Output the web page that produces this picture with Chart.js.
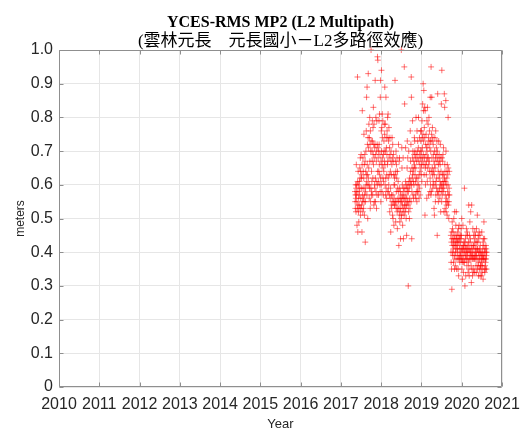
<!DOCTYPE html>
<html>
<head>
<meta charset="utf-8">
<script src="https://cdn.jsdelivr.net/npm/chart.js@4.4.1/dist/chart.umd.min.js"></script>
<style>
  html, body { margin: 0; padding: 0; background: #ffffff; }
  #wrap { width: 524px; height: 430px; }
</style>
</head>
<body>
<div id="wrap"><canvas id="c" width="524" height="430"></canvas></div>
<script>
// RMS MP2 (L2 multipath) for station YCES, in centimetres (divided by 100 below).
// Solutions are listed at a fixed spacing of stepDays, starting at the given decimal year.
const stepDays = 1.5;

const firstYear1 = 2017.35;
const mp2Period1 = [
  58,55,53,57,60,56,52,59,66,57,60,55,48,58,53,92,61,46,54,64,
  60,52,56,49,58,54,57,61,59,65,53,62,68,51,64,56,53,69,59,62,
  54,63,46,66,82,55,57,52,68,59,64,56,53,62,75,55,66,51,57,69,
  59,67,43,55,58,64,70,60,76,63,86,61,57,89,66,72,63,50,60,74,
  93,62,71,65,78,60,56,74,59,80,67,72,53,76,55,70,59,100,73,57,
  64,58,61,70,67,79,73,57,62,77,69,83,66,72,54,78,68,55,60,71,
  59,72,91,62,55,69,80,58,61,67,53,70,79,57,72,60,98,64,97,71,
  68,61,57,70,64,79,72,66,81,63,60,69,58,86,91,62,55,67,60,76,
  94,70,77,58,66,81,74,68,79,62,65,57,69,61,64,73,70,78,67,75,
  89,66,60,78,70,57,62,86,59,74,71,56,63,69,76,58,66,80,67,74,
  81,62,58,73,60,77,68,63,57,71,52,74,69,56,64,59,46,67,70,54,
  63,57,53,66,74,55,68,51,72,57,50,67,55,69,63,48,60,56,54,62,
  60,54,91,63,67,55,49,64,70,53,58,66,62,55,68,52,47,64,59,53,
  56,61,58,72,55,42,53,67,51,68,59,49,56,52,58,44,55,53,57,50,
  100,55,51,71,65,56,60,54,48,57,52,68,59,44,56,53,58,51,95,54,
  84,56,59,52,55,61,71,53,57,50,60,54,45,56,59,65,73,58,55,68,
  60,54,30,58,52,70,61,55,59,50,62,56,53,60,76,64,67,61,72,55,
  92,86,60,44,58,65,62,68,79,63,70,57,64,61,56,67,60,65,69,74,
  66,73,70,63,57,68,61,65,56,80,69,58,62,67,55,76,60,70,58,73,
  68,62,58,71,80,60,67,56,63,69,74,59,66,64,57,70,76,68,73,65,
  63,70,76,66,61,79,68,74,71,84,67,75,90,69,82,73,88,66,63,77,
  68,83,74,51,82,65,60,72,66,69,75,63,71,67,56,79,70,61,83,68,
  65,72,78,68,74,57,66,80,73,67,76,64,71,58,62,86,60,73,70,57,
  95,64,58,75,86,68,73,65,77,63,59,74,61,72,69,64,60,67,53,63,
  51,70,66,74,65,60,55,68,76,57,61,69,71,59,62,73,67,45,70,58,
  87,68,57,64,55,66,73,58,62,69,67,59,63,56,61,66,72,60,52,68,
  64,58,84,60,55,94,68,57,59,63,67,61,69,58,60,71,63,59,52,61,
  87,62,83,66,64,53,57,61,55,85,70,52,60,56,54,62,64,51,66,55,
  58,63,60,80,65,54,57,50,55,59,64,57
];

// Second period, after the level drop.
const firstYear2 = 2019.73;
const mp2Period2 = [
  45,40,37,43,35,46,29,44,49,42,47,40,39,44,46,41,37,43,50,42,
  44,39,35,52,45,38,42,36,40,43,48,41,45,52,44,35,42,38,40,43,
  41,46,44,39,35,43,47,33,38,45,48,41,44,39,37,42,38,43,45,40,
  39,44,47,41,45,38,50,35,40,37,32,41,38,48,42,39,34,41,37,43,
  42,37,59,40,43,30,38,41,44,39,33,42,45,40,47,38,41,36,39,46,
  40,45,42,38,34,41,37,43,54,35,40,33,38,45,41,49,43,39,44,40,
  52,38,36,41,31,39,54,42,35,40,38,33,39,47,41,34,38,42,45,35,
  39,42,44,38,34,46,40,43,39,45,41,38,36,40,34,47,39,43,41,38,
  51,41,35,43,36,45,40,33,37,44,39,46,41,38,35,40,45,33,42,36,
  40,36,38,35,39,33,37,46,40,38,34,39,36,41,43,32,38,44,39,42,
  49,38,35,40,44,34,41,36,38,35,37,40,42,38,41,39,35,40
];

const yearTicks = [2010, 2011, 2012, 2013, 2014, 2015, 2016, 2017, 2018, 2019, 2020, 2021];
const meterTicks = [0, 0.1, 0.2, 0.3, 0.4, 0.5, 0.6, 0.7, 0.8, 0.9, 1.0];
const meterTickLabels = ['0', '0.1', '0.2', '0.3', '0.4', '0.5', '0.6', '0.7', '0.8', '0.9', '1.0'];

const titleText = 'YCES-RMS MP2 (L2 Multipath)';
const subtitleText = '(雲林元長\u3000元長國小－L2多路徑效應)';

function toPoints(startYear, values) {
  return values.map((v, i) => ({ x: startYear + (i * stepDays) / 365.25, y: v / 100 }));
}
const points = toPoints(firstYear1, mp2Period1).concat(toPoints(firstYear2, mp2Period2));

const AXIS_GRAY = '#8f8f8f';
const LABEL_COLOR = '#262626';

// Closed axes box with short inward tick marks on all four sides.
const boxPlugin = {
  id: 'boxTicks',
  afterDatasetsDraw(chart) {
    const { ctx, chartArea: a, scales } = chart;
    const L = Math.round(a.left) + 0.5, R = Math.round(a.right) - 0.5;
    const T = Math.round(a.top) + 0.5, B = Math.round(a.bottom) - 0.5;
    const len = 4;
    ctx.save();
    ctx.strokeStyle = AXIS_GRAY;
    ctx.lineWidth = 1;
    ctx.beginPath();
    ctx.rect(L, T, R - L, B - T);
    scales.x.ticks.forEach(t => {
      const px = Math.round(scales.x.getPixelForValue(t.value)) + 0.5;
      ctx.moveTo(px, B); ctx.lineTo(px, B - len);
      ctx.moveTo(px, T); ctx.lineTo(px, T + len);
    });
    scales.y.ticks.forEach(t => {
      const py = Math.round(scales.y.getPixelForValue(t.value)) + 0.5;
      ctx.moveTo(L, py); ctx.lineTo(L + len, py);
      ctx.moveTo(R, py); ctx.lineTo(R - len, py);
    });
    ctx.stroke();
    ctx.restore();
  }
};

new Chart(document.getElementById('c'), {
  type: 'scatter',
  data: {
    datasets: [{
      data: points,
      showLine: false,
      pointStyle: 'cross',
      pointRadius: 3,
      pointHoverRadius: 3,
      borderWidth: 1,
      borderColor: 'rgba(255,0,0,0.55)',
      backgroundColor: 'rgba(255,0,0,0.55)',
      clip: false
    }]
  },
  options: {
    responsive: false,
    animation: false,
    events: [],
    layout: { padding: { left: 0, right: 0, top: 0, bottom: 0 } },
    plugins: {
      legend: { display: false },
      tooltip: { enabled: false },
      title: {
        display: true,
        fullSize: false,
        text: titleText,
        color: '#000000',
        font: { family: '"Liberation Serif", "Times New Roman", serif', size: 16, weight: 'bold', lineHeight: 1.2 },
        padding: { top: 13, bottom: 0 }
      },
      subtitle: {
        display: true,
        fullSize: false,
        text: subtitleText,
        color: '#000000',
        font: { family: '"Liberation Serif", "Noto Sans CJK TC", serif', size: 17, weight: 'normal', lineHeight: 1.05 },
        padding: { top: 0, bottom: 0 }
      }
    },
    scales: {
      x: {
        type: 'linear',
        min: 2010,
        max: 2021,
        afterBuildTicks: s => { s.ticks = yearTicks.map(v => ({ value: v })); },
        afterFit: s => { s.height = 43; s.paddingRight = 22; s.paddingLeft = 0; },
        ticks: {
          color: LABEL_COLOR,
          padding: 8,
          maxRotation: 0,
          autoSkip: false,
          font: { family: '"Liberation Sans", Arial, sans-serif', size: 16 },
          callback: v => String(v)
        },
        grid: { color: '#e6e6e6', lineWidth: 1, drawTicks: false },
        border: { display: false },
        title: {
          display: true,
          text: 'Year',
          color: LABEL_COLOR,
          font: { family: '"Liberation Sans", Arial, sans-serif', size: 13 },
          padding: { top: 0, bottom: -2 }
        }
      },
      y: {
        type: 'linear',
        min: 0,
        max: 1,
        afterBuildTicks: s => { s.ticks = meterTicks.map(v => ({ value: v })); },
        afterFit: s => { s.width = 59; },
        ticks: {
          color: LABEL_COLOR,
          padding: 6,
          autoSkip: false,
          font: { family: '"Liberation Sans", Arial, sans-serif', size: 16 },
          callback: (v) => {
            const i = meterTicks.findIndex(m => Math.abs(m - v) < 1e-9);
            return i >= 0 ? meterTickLabels[i] : '';
          }
        },
        grid: { color: '#e6e6e6', lineWidth: 1, drawTicks: false },
        border: { display: false },
        title: {
          display: true,
          text: 'meters',
          color: LABEL_COLOR,
          font: { family: '"Liberation Sans", Arial, sans-serif', size: 12 },
          padding: { top: 13, bottom: 0 }
        }
      }
    }
  },
  plugins: [boxPlugin]
});
</script>
</body>
</html>
